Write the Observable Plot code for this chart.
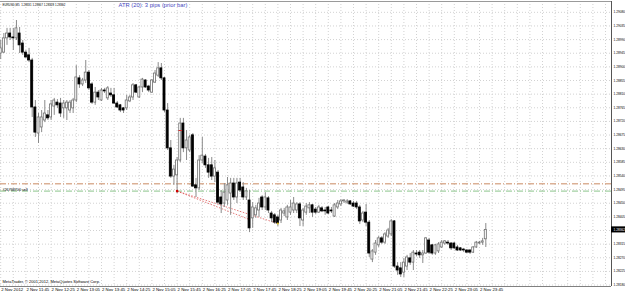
<!DOCTYPE html>
<html><head><meta charset="utf-8">
<script src="https://cdn.jsdelivr.net/npm/d3@7"></script>
<script src="https://cdn.jsdelivr.net/npm/@observablehq/plot@0.6"></script>
<style>
html,body{margin:0;padding:0;background:#fff;overflow:hidden}
#chart svg{display:block}
</style></head><body><div id="chart"></div>
<script>
const symbolHeader = "EURUSD,M5  1.28331 1.28367 1.28328 1.28362";
const indicatorText = "ATR (20): 3 pips (prior bar)";
const copyrightText = "MetaTrader, \u00A9 2001-2012, MetaQuotes Software Corp.";
const orderLabel = "#26768706 sell";
const firstBarTime = "11:05";
const barMinutes = 5;

const open = [1.28944,1.28947,1.28994,1.29010,1.28997,1.28994,1.29010,1.28977,1.28947,1.28938,
1.28921,1.28766,1.28680,1.28700,1.28723,1.28740,1.28733,1.28769,1.28782,1.28779,
1.28763,1.28763,1.28756,1.28763,1.28789,1.28862,1.28842,1.28855,1.28881,1.28842,
1.28782,1.28815,1.28789,1.28822,1.28796,1.28812,1.28806,1.28779,1.28773,1.28763,
1.28763,1.28786,1.28799,1.28839,1.28799,1.28832,1.28855,1.28835,1.28815,1.28848,
1.28871,1.28895,1.28862,1.28756,1.28631,1.28538,1.28542,1.28591,1.28713,1.28631,
1.28624,1.28674,1.28509,1.28499,1.28591,1.28604,1.28575,1.28575,1.28538,1.28551,
1.28469,1.28449,1.28459,1.28482,1.28515,1.28469,1.28518,1.28502,1.28469,1.28459,
1.28400,1.28410,1.28426,1.28469,1.28436,1.28466,1.28416,1.28410,1.28403,1.28393,
1.28416,1.28403,1.28419,1.28426,1.28426,1.28446,1.28393,1.28419,1.28433,1.28443,
1.28429,1.28419,1.28433,1.28426,1.28436,1.28426,1.28406,1.28436,1.28446,1.28456,
1.28452,1.28456,1.28449,1.28449,1.28436,1.28393,1.28419,1.28386,1.28264,1.28287,
1.28311,1.28334,1.28320,1.28340,1.28347,1.28390,1.28241,1.28235,1.28221,1.28241,
1.28268,1.28254,1.28284,1.28287,1.28278,1.28284,1.28327,1.28311,1.28284,1.28291,
1.28304,1.28317,1.28320,1.28317,1.28317,1.28304,1.28301,1.28297,1.28294,1.28294,
1.28287,1.28304,1.28317,1.28320,1.28331];

const high = [1.28987,1.29010,1.29027,1.29027,1.29027,1.29053,1.29030,1.28987,1.28954,1.28961,
1.28928,1.28789,1.28746,1.28756,1.28789,1.28756,1.28789,1.28796,1.28792,1.28796,
1.28789,1.28789,1.28789,1.28796,1.28904,1.28871,1.28862,1.28921,1.28888,1.28848,
1.28832,1.28822,1.28829,1.28829,1.28835,1.28829,1.28829,1.28786,1.28776,1.28766,
1.28806,1.28806,1.28845,1.28842,1.28835,1.28862,1.28858,1.28839,1.28858,1.28888,
1.28914,1.28911,1.28865,1.28779,1.28657,1.28575,1.28601,1.28730,1.28730,1.28690,
1.28674,1.28680,1.28532,1.28607,1.28667,1.28611,1.28598,1.28601,1.28591,1.28558,
1.28492,1.28515,1.28535,1.28532,1.28532,1.28532,1.28532,1.28518,1.28499,1.28492,
1.28452,1.28443,1.28466,1.28475,1.28485,1.28472,1.28423,1.28416,1.28410,1.28433,
1.28433,1.28443,1.28459,1.28469,1.28452,1.28452,1.28433,1.28449,1.28452,1.28446,
1.28436,1.28443,1.28439,1.28436,1.28439,1.28436,1.28449,1.28459,1.28462,1.28462,
1.28462,1.28459,1.28456,1.28456,1.28443,1.28423,1.28446,1.28393,1.28297,1.28327,
1.28340,1.28340,1.28353,1.28367,1.28396,1.28393,1.28254,1.28254,1.28268,1.28278,
1.28284,1.28294,1.28294,1.28294,1.28294,1.28337,1.28334,1.28314,1.28314,1.28320,
1.28327,1.28327,1.28327,1.28320,1.28320,1.28311,1.28304,1.28301,1.28297,1.28297,
1.28307,1.28324,1.28324,1.28334,1.28383];

const low = [1.28924,1.28944,1.28971,1.28987,1.28954,1.28987,1.28944,1.28938,1.28928,1.28914,
1.28733,1.28667,1.28647,1.28683,1.28716,1.28723,1.28723,1.28740,1.28763,1.28733,
1.28730,1.28723,1.28746,1.28746,1.28782,1.28829,1.28835,1.28845,1.28822,1.28776,
1.28773,1.28789,1.28786,1.28812,1.28789,1.28799,1.28776,1.28763,1.28749,1.28746,
1.28756,1.28782,1.28789,1.28812,1.28796,1.28815,1.28829,1.28815,1.28812,1.28845,
1.28865,1.28855,1.28749,1.28624,1.28532,1.28509,1.28482,1.28584,1.28617,1.28591,
1.28617,1.28502,1.28469,1.28492,1.28581,1.28565,1.28532,1.28525,1.28518,1.28446,
1.28416,1.28436,1.28443,1.28410,1.28459,1.28449,1.28485,1.28459,1.28459,1.28353,
1.28367,1.28400,1.28403,1.28426,1.28426,1.28416,1.28386,1.28380,1.28373,1.28383,
1.28406,1.28393,1.28410,1.28416,1.28416,1.28373,1.28373,1.28410,1.28416,1.28403,
1.28413,1.28416,1.28419,1.28410,1.28413,1.28416,1.28403,1.28429,1.28439,1.28449,
1.28446,1.28443,1.28436,1.28429,1.28380,1.28386,1.28373,1.28271,1.28254,1.28278,
1.28304,1.28314,1.28314,1.28334,1.28340,1.28235,1.28212,1.28205,1.28205,1.28228,
1.28245,1.28228,1.28274,1.28268,1.28251,1.28281,1.28281,1.28278,1.28278,1.28284,
1.28301,1.28311,1.28311,1.28294,1.28297,1.28291,1.28291,1.28287,1.28284,1.28281,
1.28284,1.28301,1.28314,1.28311,1.28304];

const close = [1.28961,1.28994,1.29010,1.28997,1.28994,1.29027,1.28971,1.28947,1.28931,1.28921,
1.28766,1.28683,1.28733,1.28733,1.28746,1.28730,1.28776,1.28789,1.28773,1.28746,
1.28779,1.28782,1.28782,1.28789,1.28865,1.28842,1.28855,1.28881,1.28829,1.28782,
1.28815,1.28799,1.28822,1.28819,1.28829,1.28806,1.28779,1.28766,1.28756,1.28756,
1.28789,1.28799,1.28839,1.28815,1.28832,1.28858,1.28832,1.28822,1.28855,1.28878,
1.28895,1.28862,1.28756,1.28631,1.28538,1.28561,1.28591,1.28713,1.28631,1.28657,
1.28667,1.28505,1.28499,1.28591,1.28607,1.28575,1.28551,1.28538,1.28565,1.28452,
1.28446,1.28485,1.28509,1.28515,1.28469,1.28515,1.28492,1.28469,1.28489,1.28367,
1.28436,1.28433,1.28449,1.28436,1.28469,1.28426,1.28400,1.28386,1.28383,1.28426,
1.28423,1.28436,1.28436,1.28449,1.28446,1.28400,1.28426,1.28439,1.28443,1.28419,
1.28419,1.28436,1.28423,1.28423,1.28416,1.28423,1.28443,1.28449,1.28456,1.28459,
1.28456,1.28446,1.28439,1.28436,1.28390,1.28416,1.28386,1.28284,1.28291,1.28317,
1.28334,1.28320,1.28347,1.28360,1.28390,1.28241,1.28228,1.28215,1.28254,1.28271,
1.28254,1.28287,1.28281,1.28278,1.28284,1.28334,1.28287,1.28284,1.28311,1.28314,
1.28320,1.28324,1.28317,1.28301,1.28301,1.28294,1.28294,1.28294,1.28287,1.28287,
1.28304,1.28320,1.28320,1.28324,1.28362];

const priceTicks = [1.29080,1.29035,1.28990,1.28945,1.28900,1.28855,1.28810,1.28765,1.28720,1.28675,
1.28630,1.28585,1.28540,1.28495,1.28450,1.28405,1.28360,1.28315,1.28270,1.28225,1.28180];

const timeTicks = ["11:05","11:45","12:25","13:05","13:45","14:25","15:05","15:45","16:25","17:05",
"17:45","18:25","19:05","19:45","20:25","21:05","21:45","22:25","23:05","23:45"];
const timeTickLabels = ["2 Nov 2012","2 Nov 11:45","2 Nov 12:25","2 Nov 13:05","2 Nov 13:45","2 Nov 14:25",
"2 Nov 15:05","2 Nov 15:45","2 Nov 16:25","2 Nov 17:05","2 Nov 17:45","2 Nov 18:25","2 Nov 19:05",
"2 Nov 19:45","2 Nov 20:25","2 Nov 21:05","2 Nov 21:45","2 Nov 22:25","2 Nov 23:05","2 Nov 23:45"];

const levelOrange = 1.28514;
const levelGreen = 1.28490;
const tradeOpen = {time: "15:45", price: 1.28490};
const tradeCloses = [{time: "17:40", price: 1.28396}, {time: "18:25", price: 1.28383}];
const pendingMark = {time: "15:50", price: 1.28690};

const toMin = s => { const [h, m] = s.split(":").map(Number); return h * 60 + m; };
const t0 = toMin(firstBarTime);
const candles = open.map((o, i) => ({t: t0 + i * barMinutes, open: o, high: high[i], low: low[i], close: close[i]}));
const lastClose = close[close.length - 1];

const xDomain = [664.68, 1634.52];
const yDomain = [1.281752, 1.291157];
const gridTimes = d3.range(t0, xDomain[1], 20);
const up = d => d.close >= d.open;

const chart = Plot.plot({
  width: 625, height: 293,
  marginLeft: 0, marginRight: 14, marginTop: 1, marginBottom: 7,
  x: {type: "linear", domain: xDomain, axis: null},
  y: {domain: yDomain, axis: null},
  style: {background: "#fff", fontFamily: "Liberation Sans, Arial, sans-serif", color: "#000"},
  marks: [
    Plot.ruleY(priceTicks, {stroke: "#d2d2d2", strokeDasharray: "1,2"}),
    Plot.ruleX(gridTimes, {stroke: "#d2d2d2", strokeDasharray: "1,2"}),
    Plot.ruleY([levelOrange], {stroke: "#c98a62", strokeDasharray: "6,2,1,2"}),
    Plot.ruleY([levelGreen], {stroke: "#8cc48c", strokeDasharray: "6,2,1,2"}),
    Plot.link(tradeCloses, {x1: () => toMin(tradeOpen.time), y1: () => tradeOpen.price,
      x2: d => toMin(d.time), y2: "price", stroke: "#d84040", strokeDasharray: "1.5,1.5", strokeWidth: 0.7}),
    Plot.ruleX(candles, {x: "t", y1: "low", y2: "high", stroke: "#8a8a8a", strokeWidth: 1}),
    Plot.rect(candles, {x1: d => d.t - 1.6, x2: d => d.t + 1.6, y1: "open", y2: "close",
      fill: d => up(d) ? "#fff" : "#000", stroke: d => up(d) ? "#707070" : "#000", strokeWidth: 0.8}),
    Plot.dot([tradeOpen], {x: d => toMin(d.time), y: "price", r: 1.3, fill: "#d00000"}),
    Plot.dot([tradeCloses[1]], {x: d => toMin(d.time), y: "price", r: 1, fill: "#e0c020"}),
    Plot.link([pendingMark], {x1: d => toMin(d.time) - 3, x2: d => toMin(d.time) + 3, y1: "price", y2: "price", stroke: "#d03030", strokeWidth: 1}),
    Plot.ruleX([xDomain[1]], {stroke: "#555"}),
    Plot.ruleY([yDomain[1]], {stroke: "#9a9a9a"}),
    Plot.ruleY([yDomain[0]], {stroke: "#808080"}),
    Plot.text(priceTicks, {y: d => d, text: d => d.toFixed(5), frameAnchor: "right", textAnchor: "start",
      lineAnchor: "middle", dx: 2, fontSize: 3.2, fill: "#000"}),
    Plot.rect([lastClose], {x1: xDomain[1], x2: xDomain[1] + 25, y1: d => d - 0.0001, y2: d => d + 0.0001, fill: "#000"}),
    Plot.text([lastClose], {y: d => d, text: d => d.toFixed(5), frameAnchor: "right", textAnchor: "start",
      lineAnchor: "middle", dx: 2, fontSize: 3.2, fill: "#fff"}),
    Plot.text(timeTicks, {x: d => toMin(d), text: (d, i) => timeTickLabels[i], frameAnchor: "bottom",
      textAnchor: "start", lineAnchor: "top", dx: 0.5, dy: 1.3, fontSize: 4.3, fill: "#000"}),
    Plot.text([symbolHeader], {frameAnchor: "top-left", textAnchor: "start", lineAnchor: "top",
      dx: 2, dy: 2.6, fontSize: 2.9, fill: "#000"}),
    Plot.text([indicatorText], {frameAnchor: "top-left", textAnchor: "start", lineAnchor: "top",
      dx: 118, dy: 1.6, fontSize: 5.8, fill: "#4646c0"}),
    Plot.text([copyrightText], {frameAnchor: "bottom-left", textAnchor: "start", lineAnchor: "middle",
      dx: 2, dy: -4.5, fontSize: 4, fill: "#000"}),
    Plot.text([orderLabel], {y: () => levelGreen, frameAnchor: "left", textAnchor: "start", lineAnchor: "middle",
      dx: 2, dy: -1.6, fontSize: 3.7, fill: "#000"})
  ]
});
document.getElementById("chart").appendChild(chart);
</script></body></html>
